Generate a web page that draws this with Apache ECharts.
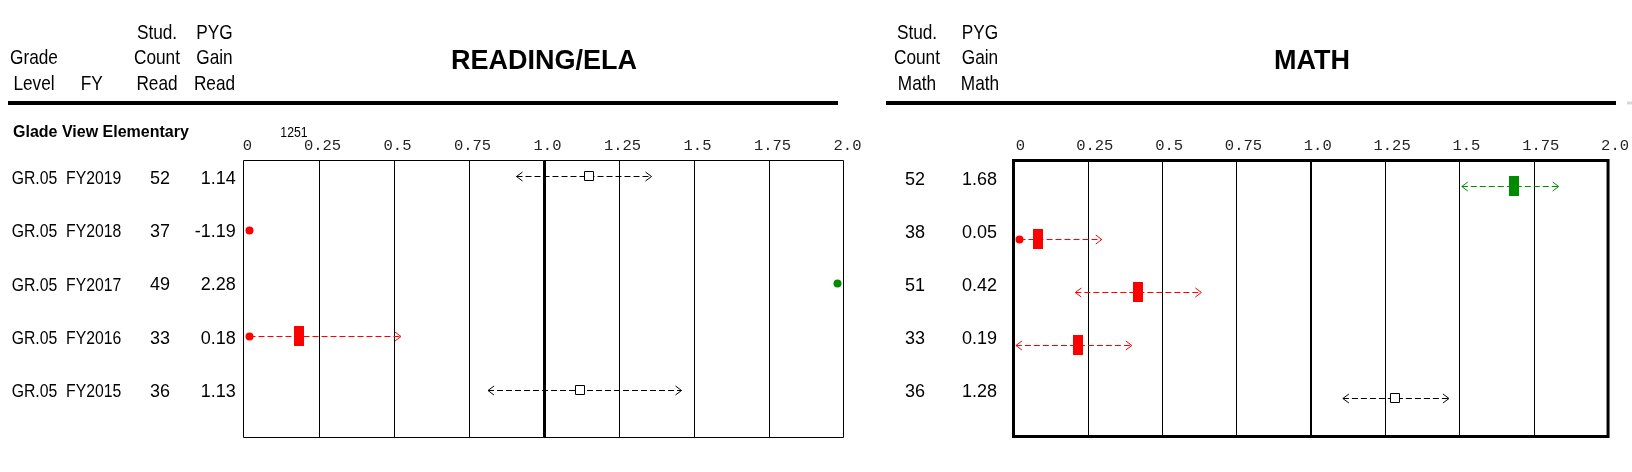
<!DOCTYPE html>
<html><head><meta charset="utf-8">
<script src="https://cdn.jsdelivr.net/npm/echarts@6/dist/echarts.min.js"></script>
<style>html,body{margin:0;padding:0;background:#fff}#c{width:1632px;height:472px}</style>
</head><body><div id="c"></div>
<script>
// ---------- data ----------
const school = 'Glade View Elementary';
const schoolCount = '1251';
const gradeLevel = ['GR.05','GR.05','GR.05','GR.05','GR.05'];
const fiscalYear = ['FY2019','FY2018','FY2017','FY2016','FY2015'];
const readCount = ['52','37','49','33','36'];
const readGain = ['1.14','-1.19','2.28','0.18','1.13'];
const mathCount = ['52','38','51','33','36'];
const mathGain = ['1.68','0.05','0.42','0.19','1.28'];
// interval estimates: low end, centre, high end
const readLow  = [0.91, null, null, -0.16, 0.815];
const readMid  = [1.15, -1.19, 2.28, 0.185, 1.12];
const readHigh = [1.36, null, null, 0.525, 1.46];
const readSig  = ['ns','below','above','below','ns'];
const mathLow  = [1.508, -0.13, 0.208, 0.008, 1.108];
const mathMid  = [1.685, 0.084, 0.418, 0.218, 1.285];
const mathHigh = [1.834, 0.297, 0.632, 0.398, 1.465];
const mathSig  = ['above','below','below','below','ns'];
const tickValues = [0,0.25,0.5,0.75,1,1.25,1.5,1.75,2];
const tickLabels = ['0','0.25','0.5','0.75','1.0','1.25','1.5','1.75','2.0'];
const headLeft  = [['Grade','Level'],['FY'],['Stud.','Count','Read'],['PYG','Gain','Read']];
const headRight = [['Stud.','Count','Math'],['PYG','Gain','Math']];
const titles = ['READING/ELA','MATH'];

// ---------- style ----------
const SANS = '"Liberation Sans",Arial,sans-serif';
const MONO = '"Liberation Mono","DejaVu Sans Mono",monospace';
const NARROW_SCALE = 0.82;
const sigColor = {ns:'#000000', below:'#ff0000', above:'#008c00'};

const chart = echarts.init(document.getElementById('c'), null, {renderer:'canvas'});

function intervalSeries(g, low, mid, high, sig) {
  return {
    type:'custom', xAxisIndex:g, yAxisIndex:g, z:5, clip:false,
    data: mid.map((m,i)=>[m,i]), encode:{x:0,y:1},
    renderItem(params, api){
      const i = params.dataIndex;
      const cs = params.coordSys;
      const y = Math.round(api.coord([0,i])[1]) + 0.5;
      const xmin = cs.x, xmax = cs.x + cs.width;
      const col = sigColor[sig[i]];
      const dotL = xmin + 6, dotR = xmax - 6;
      const ch = [];
      const dot = x => ({type:'circle', shape:{cx:x, cy:y, r:4}, style:{fill:col}});
      const chev = (tx, dir) => ({type:'polyline', shape:{points:[[tx+dir*6,y-4.5],[tx,y],[tx+dir*6,y+4.5]]}, style:{stroke:col, lineWidth:1, fill:null}});
      const m = mid[i];
      if (m < 0) { ch.push(dot(dotL)); return {type:'group', children:ch}; }
      if (m > 2) { ch.push(dot(dotR)); return {type:'group', children:ch}; }
      let xs, xe;
      if (low[i] < 0) { xs = dotL; } else { xs = api.coord([low[i], i])[0]; }
      if (high[i] > 2) { xe = dotR; } else { xe = api.coord([high[i], i])[0]; }
      ch.push({type:'line', shape:{x1:xs, y1:y, x2:xe, y2:y}, style:{stroke:col, lineWidth:1, lineDash:[6,3]}});
      ch.push(low[i] < 0 ? dot(dotL) : chev(xs, 1));
      ch.push(high[i] > 2 ? dot(dotR) : chev(xe, -1));
      const cx = Math.round(api.coord([m, i])[0]);
      if (sig[i] === 'ns') {
        ch.push({type:'rect', shape:{x:cx-4.5, y:y-5, width:9, height:9}, style:{fill:'#fff', stroke:'#000', lineWidth:1}});
      } else {
        ch.push({type:'rect', shape:{x:cx-5, y:y-10.5, width:10, height:20}, style:{fill:col}});
      }
      return {type:'group', children:ch};
    }
  };
}

function gridLineSeries(g, heavy) {
  return {
    type:'custom', xAxisIndex:g, yAxisIndex:g, z:2, clip:false,
    data: tickValues.slice(1,-1).map(v=>[v,0]), encode:{x:0,y:1},
    renderItem(params, api){
      const v = api.value(0);
      const cs = params.coordSys;
      const w = (v === 1) ? heavy : 1;
      let x = api.coord([v,0])[0];
      x = (w % 2 === 1) ? Math.round(x) + 0.5 : Math.round(x);
      return {type:'line', shape:{x1:x, y1:cs.y, x2:x, y2:cs.y+cs.height}, style:{stroke:'#000', lineWidth:w}};
    }
  };
}

function textSeries(g, cols, dy) {
  return {
    type:'custom', xAxisIndex:g, yAxisIndex:g, z:6, clip:false,
    data: fiscalYear.map((f,i)=>[0,i]), encode:{x:0,y:1},
    renderItem(params, api){
      const i = params.dataIndex;
      const y = api.coord([0,i])[1] + dy;
      return {type:'group', children: cols.map(c => ({
        type:'text', x:c.x, y:y, scaleX:c.sx || 1,
        style:{text:c.arr[i], fontSize:c.size, fontFamily:SANS, fontWeight:c.weight||'normal', fill:'#000', align:c.align, verticalAlign:'middle'}
      }))};
    }
  };
}

function axisLabelFmt(v){
  const k = tickValues.findIndex(t => Math.abs(t - v) < 1e-6);
  return k >= 0 ? tickLabels[k] : '';
}

const graphics = [];
graphics.push({type:'line', shape:{x1:8,y1:103,x2:838,y2:103}, style:{stroke:'#000', lineWidth:4}});
graphics.push({type:'line', shape:{x1:886,y1:103,x2:1616,y2:103}, style:{stroke:'#000', lineWidth:4}});
graphics.push({type:'line', shape:{x1:1627,y1:103,x2:1632,y2:103}, style:{stroke:'#d8d8d8', lineWidth:3}});
const headLeftX = [34, 91.7, 157, 214.5];
const headRightX = [917, 980];
function pushHead(groups, xs){
  groups.forEach((lines, k) => {
    lines.forEach((t, j) => {
      graphics.push({type:'text', x:xs[k], y:84 - (lines.length-1-j)*25.3, scaleX:NARROW_SCALE,
        style:{text:t, fontSize:21, fontFamily:SANS, fill:'#000', align:'center', verticalAlign:'middle'}});
    });
  });
}
pushHead(headLeft, headLeftX);
pushHead(headRight, headRightX);
graphics.push({type:'text', x:544, y:62, style:{text:titles[0], fontSize:27, fontWeight:'bold', fontFamily:SANS, fill:'#000', align:'center', verticalAlign:'middle'}});
graphics.push({type:'text', x:1312, y:62, style:{text:titles[1], fontSize:27, fontWeight:'bold', fontFamily:SANS, fill:'#000', align:'center', verticalAlign:'middle'}});
graphics.push({type:'text', x:13, y:133, style:{text:school, fontSize:16, fontWeight:'bold', fontFamily:SANS, fill:'#000', align:'left', verticalAlign:'middle'}});
graphics.push({type:'text', x:294, y:133, scaleX:NARROW_SCALE, style:{text:schoolCount, fontSize:15, fontFamily:SANS, fill:'#000', align:'center', verticalAlign:'middle'}});

const xAxisBase = (g, pad) => ({
  gridIndex:g, type:'value', position:'top', min:0, max:2, interval:0.25,
  axisLine:{show:false}, axisTick:{show:false}, splitLine:{show:false},
  axisLabel:{formatter:axisLabelFmt, fontFamily:MONO, fontSize:15.5, color:'#222', margin:7, padding:[0,0,0,pad], showMinLabel:true, showMaxLabel:true}
});

chart.setOption({
  animation:false,
  backgroundColor:'#fff',
  graphic: graphics,
  grid:[
    {left:243.5, top:160.5, width:600, height:277, show:true, borderColor:'#000', borderWidth:1, backgroundColor:'transparent', containLabel:false},
    {left:1013.5, top:160.5, width:600, height:276, show:true, borderColor:'#000', borderWidth:3, backgroundColor:'transparent', containLabel:false}
  ],
  xAxis:[xAxisBase(0, 8), xAxisBase(1, 14)],
  yAxis:[
    {gridIndex:0, type:'value', inverse:true, min:-0.3, max:4.9, show:false},
    {gridIndex:1, type:'value', inverse:true, min:-0.49, max:4.72, show:false}
  ],
  series:[
    gridLineSeries(0, 3),
    gridLineSeries(1, 2),
    intervalSeries(0, readLow, readMid, readHigh, readSig),
    intervalSeries(1, mathLow, mathMid, mathHigh, mathSig),
    textSeries(0, [
      {arr:gradeLevel, x:11.7, align:'left', size:19, sx:0.83},
      {arr:fiscalYear, x:66, align:'left', size:19, sx:0.83},
      {arr:readCount, x:160, align:'center', size:18},
      {arr:readGain, x:235.7, align:'right', size:18}
    ], 2.5),
    textSeries(1, [
      {arr:mathCount, x:915, align:'center', size:18},
      {arr:mathGain, x:997, align:'right', size:18}
    ], -6)
  ]
});
</script></body></html>
